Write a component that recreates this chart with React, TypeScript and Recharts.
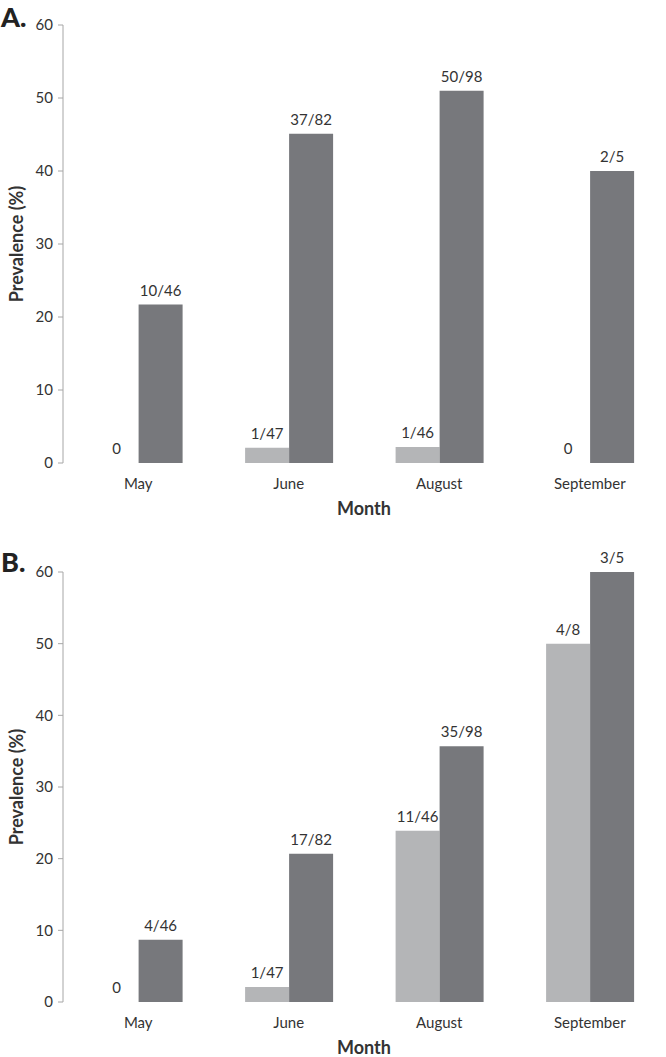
import React from "react";
import {
  BarChart,
  Bar,
  XAxis,
  YAxis,
  LabelList,
} from "recharts";

// months sampled
const months = ["May", "June", "August", "September"];

// panel A: prevalence (%) per month, two groups
const aLight = [0, 2.1, 2.2, 0];
const aDark = [21.7, 45.1, 51.0, 40.0];
const aLightLabels = ["0", "1/47", "1/46", "0"];
const aDarkLabels = ["10/46", "37/82", "50/98", "2/5"];

// panel B
const bLight = [0, 2.1, 23.9, 50.0];
const bDark = [8.7, 20.7, 35.7, 60.0];
const bLightLabels = ["0", "1/47", "11/46", "4/8"];
const bDarkLabels = ["4/46", "17/82", "35/98", "3/5"];

const yTicks = [0, 10, 20, 30, 40, 50, 60];
const bandEdges = [0, 1, 2, 3, 4];

const FONT = "Lato, 'Open Sans', sans-serif";
const AXIS = "#a6a6a6";
const TEXT = "#333333";
const LIGHT = "#b4b5b7";
const DARK = "#77787c";
const LABEL_OFFSET = 9;

const buildRows = (light: number[], dark: number[], ll: string[], dl: string[]) =>
  months.map((m, i) => ({
    month: m,
    idx: i + 0.5,
    light: light[i],
    dark: dark[i],
    lightLabel: ll[i],
    darkLabel: dl[i],
  }));

const YLabel = (props: any) => {
  const vb = props.viewBox || {};
  const cy = vb.y + vb.height / 2;
  return (
    <text
      x={16}
      y={cy}
      transform={`rotate(-90, 16, ${cy})`}
      textAnchor="middle"
      dominantBaseline="central"
      fontFamily={FONT}
      fontWeight={700}
      fontSize={18}
      fill={TEXT}
    >
      Prevalence (%)
    </text>
  );
};

// dark-bar label; also places the light-bar label when that bar has zero height
const makeDarkLabel = (rows: any[]) => (props: any) => {
  const { x, y, width, height, index, value } = props;
  const row = rows[index];
  const base = y + height;
  return (
    <g fontFamily={FONT} fontSize={15} fill={TEXT} textAnchor="middle">
      <text x={x + width / 2} y={y - LABEL_OFFSET}>{value}</text>
      {row && row.light === 0 ? (
        <text x={x - width / 2} y={base - LABEL_OFFSET}>{row.lightLabel}</text>
      ) : null}
    </g>
  );
};

const Panel: React.FC<{ rows: any[]; height: number }> = ({ rows, height }) => (
  <BarChart
    width={666}
    height={height}
    data={rows}
    margin={{ top: 25, right: 1, left: 0, bottom: 0 }}
    barGap={0}
    barCategoryGap="21%"
  >
    <XAxis
      xAxisId="edges"
      type="number"
      dataKey="idx"
      domain={[0, 4]}
      ticks={bandEdges}
      tickFormatter={() => ""}
      height={0}
      axisLine={{ stroke: AXIS }}
      tickLine={{ stroke: AXIS }}
      tickSize={6}
    />
    <XAxis
      dataKey="month"
      height={56}
      axisLine={false}
      tickLine={false}
      tickSize={6}
      tickMargin={9}
      tick={{ fill: TEXT, fontSize: 15, fontFamily: FONT }}
      label={{
        value: "Month",
        position: "insideBottom",
        offset: 4,
        fill: TEXT,
        fontSize: 18,
        fontWeight: 700,
        fontFamily: FONT,
      }}
    />
    <YAxis
      width={63}
      domain={[0, 60]}
      ticks={yTicks}
      interval={0}
      axisLine={{ stroke: AXIS }}
      tickLine={{ stroke: AXIS }}
      tickSize={5}
      tickMargin={5}
      tick={{ fill: TEXT, fontSize: 15, fontFamily: FONT }}
      label={<YLabel />}
    />
    <Bar dataKey="light" fill={LIGHT} isAnimationActive={false}>
      <LabelList
        dataKey="lightLabel"
        position="top"
        offset={LABEL_OFFSET}
        fill={TEXT}
        fontSize={15}
        fontFamily={FONT}
      />
    </Bar>
    <Bar dataKey="dark" fill={DARK} isAnimationActive={false}>
      <LabelList dataKey="darkLabel" content={makeDarkLabel(rows)} />
    </Bar>
  </BarChart>
);

const panelLetter: React.CSSProperties = {
  position: "absolute",
  left: 1,
  fontFamily: FONT,
  fontWeight: 900,
  fontSize: 27,
  color: "#222",
  lineHeight: 1,
};

export default function App() {
  const rowsA = buildRows(aLight, aDark, aLightLabels, aDarkLabels);
  const rowsB = buildRows(bLight, bDark, bLightLabels, bDarkLabels);
  return (
    <div
      style={{
        position: "absolute",
        top: 0,
        left: 0,
        width: 666,
        height: 1057,
        background: "#fff",
      }}
    >
      <div style={{ position: "absolute", top: 0, left: 0 }}>
        <Panel rows={rowsA} height={519} />
      </div>
      <div style={{ position: "absolute", top: 547, left: 0 }}>
        <Panel rows={rowsB} height={511} />
      </div>
      <div style={{ ...panelLetter, top: 3 }}>A.</div>
      <div style={{ ...panelLetter, top: 548 }}>B.</div>
    </div>
  );
}
